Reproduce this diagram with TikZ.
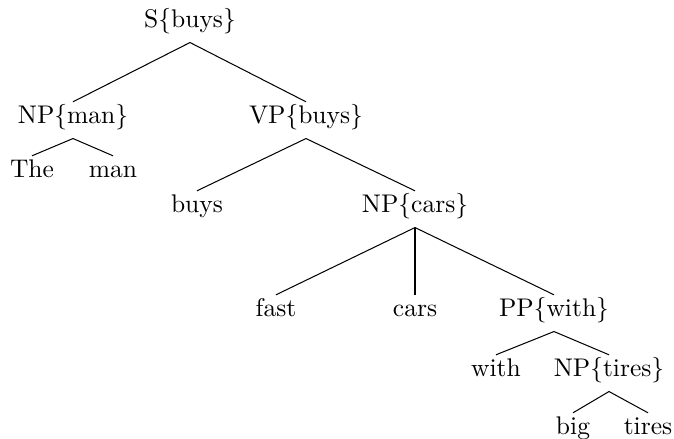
\documentclass[tikz,border=0pt]{standalone}
\usepackage{tikz}
\tikzset{
  tn/.style={anchor=base, text height=6pt, text depth=3pt, inner sep=2.5pt},
  br/.style={thin}
}
\begin{document}
\begin{tikzpicture}[x=0.392pt, y=-0.392pt]
      \useasboundingbox (0, 0) rectangle (674, 439);
      \node [tn] (s) at (190, 28) {S$\{$buys$\}$};
      \node [tn] (npman) at (73, 124) {NP$\{$man$\}$};
      \node [tn] (vp) at (306, 124) {VP$\{$buys$\}$};
      \node [tn] (the) at (32, 178) {The};
      \node [tn] (man) at (113, 178) {man};
      \node [tn] (buys) at (197, 213) {buys};
      \node [tn] (npcars) at (415, 213) {NP$\{$cars$\}$};
      \node [tn] (fast) at (276, 317) {fast};
      \node [tn] (cars) at (415, 317) {cars};
      \node [tn] (ppwith) at (554, 317) {PP$\{$with$\}$};
      \node [tn] (with) at (496, 377) {with};
      \node [tn] (nptires) at (609, 377) {NP$\{$tires$\}$};
      \node [tn] (big) at (573, 435) {big};
      \node [tn] (tires) at (648, 435) {tires};
      \draw [br] (s.south) -- (npman.north);
      \draw [br] (s.south) -- (vp.north);
      \draw [br] (npman.south) -- (the.north);
      \draw [br] (npman.south) -- (man.north);
      \draw [br] (vp.south) -- (buys.north);
      \draw [br] (vp.south) -- (npcars.north);
      \draw [br] (npcars.south) -- (fast.north);
      \draw [line width=0.8pt] (npcars.south) -- (cars.north);
      \draw [br] (npcars.south) -- (ppwith.north);
      \draw [br] (ppwith.south) -- (with.north);
      \draw [br] (ppwith.south) -- (nptires.north);
      \draw [br] (nptires.south) -- (big.north);
      \draw [br] (nptires.south) -- (tires.north);
    \end{tikzpicture}
\end{document}
